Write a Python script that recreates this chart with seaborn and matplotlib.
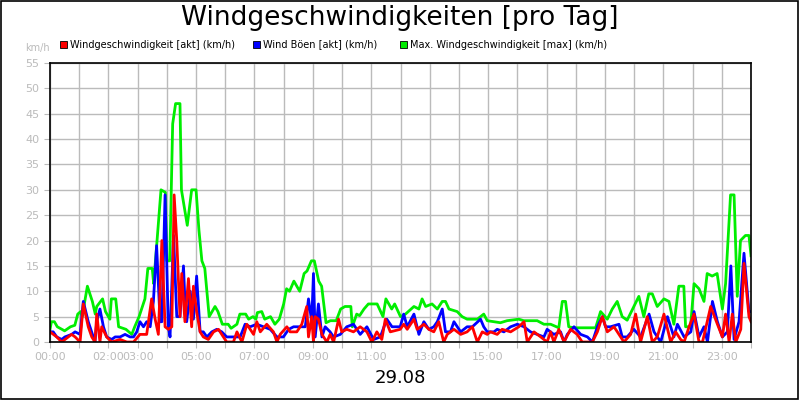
import matplotlib
matplotlib.use("Agg")
import matplotlib.pyplot as plt
import seaborn as sns
import pandas as pd
from matplotlib.patches import Rectangle

# ================= Daten (Stunden, km/h) =================
max_t = [0, 0.05, 0.15, 0.25, 0.5, 0.7, 0.85, 0.95, 1.05, 1.1, 1.28, 1.45, 1.55, 1.6, 1.8, 1.9, 2.05, 2.1, 2.25, 2.35,
         2.6, 2.8, 2.9, 3.05, 3.25, 3.35, 3.5, 3.55, 3.65, 3.8, 3.95, 4.0, 4.1, 4.2, 4.3, 4.45, 4.5, 4.7, 4.85, 5.0,
         5.1, 5.2, 5.3, 5.45, 5.65, 5.75, 5.9, 6.1, 6.2, 6.4, 6.5, 6.7, 6.8, 6.95, 7.05, 7.1, 7.25, 7.35, 7.55, 7.7,
         7.85, 8.0, 8.1, 8.2, 8.35, 8.55, 8.7, 8.8, 8.95, 9.05, 9.2, 9.3, 9.45, 9.6, 9.8, 9.95, 10.1, 10.3, 10.35, 10.5,
         10.6, 10.75, 10.9, 11.2, 11.4, 11.5, 11.7, 11.8, 12.0,
         12.17, 12.46, 12.63, 12.74, 12.86, 13.08, 13.26, 13.43, 13.54, 13.66, 13.94, 14.11, 14.28, 14.63, 14.85, 14.97,
         15.42, 15.65, 16.05, 16.22, 16.68, 16.91, 17.14, 17.42, 17.54, 17.65, 17.76, 17.94, 18.28, 18.51, 18.68, 18.85,
         19.08, 19.25, 19.42, 19.59, 19.76, 19.99, 20.16, 20.33, 20.5, 20.62, 20.79, 21.02, 21.19, 21.36, 21.53, 21.7,
         21.76, 21.93, 22.05, 22.22, 22.39, 22.5, 22.67, 22.84, 23.02, 23.13, 23.3, 23.42, 23.53, 23.64, 23.81, 23.93, 24.0]
max_v = [2.5, 4, 4, 3, 2.2, 3, 3.3, 5.5, 6, 5, 11, 8, 5.5, 7, 8.5, 6, 4.5, 8.5, 8.5, 3,
         2.5, 1.5, 3, 5, 8.5, 14.5, 14.5, 11.5, 19, 30, 29.5, 16, 16, 43, 47, 47, 30, 23, 30, 30,
         22, 16, 14.5, 5, 7, 6, 3.5, 3.5, 2.7, 3.5, 5.5, 5.5, 4.5, 5, 4.5, 5.8, 6, 4.5, 5, 3.5,
         4.5, 7.5, 10.5, 10, 12, 10, 13.5, 14, 16, 16, 12, 11, 3.8, 4.2, 4.2, 6.5, 7, 7, 3, 5.5,
         5.2, 6.5, 7.5, 7.5, 5, 8.5, 6.5, 7.5, 5,
         5.5, 7, 6.5, 8.5, 7, 7.5, 6.5, 8, 8, 6.5, 6, 5, 4.5, 4.5, 5.5, 4.2,
         3.8, 4.2, 4.5, 4.2, 4.2, 3.5, 3.5, 2.8, 8, 8, 3, 2.8, 2.8, 2.8, 2.8, 6,
         4.5, 6.5, 8, 5, 4.3, 7, 9, 5, 9.5, 9.5, 7, 8.5, 8, 3.5, 11, 11,
         3, 3, 11.5, 10.5, 8, 13.5, 13, 13.5, 6.5, 11.5, 29, 29, 9, 20, 21, 21, 17]

boe_t = [0, .11, .23, .4, .51, .74, .86, 1.03, 1.14, 1.31, 1.48, 1.54, 1.6, 1.71, 1.83, 1.94, 2.11, 2.23, 2.4, 2.57,
         2.74, 2.86, 2.97, 3.08, 3.2, 3.31, 3.43, 3.54, 3.65, 3.77, 3.83, 3.94, 4.05, 4.11, 4.23, 4.34, 4.45, 4.57, 4.62, 4.68,
         4.8, 4.91, 5.02, 5.14, 5.25, 5.37, 5.54, 5.71, 5.88, 6.05, 6.28, 6.51, 6.68, 6.85, 7.08, 7.31, 7.54, 7.77, 7.99, 8.17,
         8.34, 8.57, 8.74, 8.85, 8.96, 9.02, 9.08, 9.19, 9.31, 9.42, 9.59, 9.71, 9.94, 10.16, 10.39, 10.62, 10.85, 11.08, 11.31, 11.53,
         11.71, 11.99,
         12.11, 12.23, 12.46, 12.63, 12.8, 12.97, 13.14, 13.26, 13.43, 13.54, 13.71, 13.83, 14.06, 14.28, 14.46, 14.74, 14.85, 14.97,
         15.2, 15.31, 15.54, 15.77, 16.0, 16.23, 16.45, 16.68, 16.91, 17.02, 17.25, 17.48, 17.6, 17.71, 17.94, 18.17, 18.4, 18.57,
         18.74, 18.91, 19.02, 19.19, 19.48, 19.59, 19.76, 19.99, 20.22, 20.51, 20.68, 20.91, 21.14, 21.36, 21.48, 21.71, 21.94, 22.05,
         22.22, 22.39, 22.51, 22.68, 22.85, 23.02, 23.19, 23.31, 23.42, 23.59, 23.76, 23.93, 24.0]
boe_v = [2, 2, 1, 0.5, 1, 1.5, 2, 1.5, 8, 4, 1, 0, 4, 6.5, 3, 1, 0.5, 1, 1, 1.5,
         1, 1, 2, 4, 3, 4, 3, 8, 19, 4, 4, 29, 3, 1, 21, 5, 5, 15, 8, 4,
         10, 4.5, 13, 2, 2, 1, 2, 2.5, 2, 1, 1, 1, 3.5, 3, 3.5, 3, 2.5, 1, 1, 2.5,
         3, 3, 3, 8.5, 4, 13.5, 1, 7.5, 1, 3, 2, 1, 1.5, 3, 3.5, 1.5, 3, 0.5, 1, 4.5,
         3, 3,
         5.5, 3, 5.5, 1.5, 4, 2.5, 3, 4, 6.5, 2, 2, 4, 2, 3, 3, 4.5, 3, 2,
         2, 2.5, 2, 3, 3.5, 3, 2, 1.5, 1, 2.5, 1.5, 2, 0, 1.5, 3, 1.5, 1, 0,
         3, 5, 3, 3, 3.5, 1, 1, 2.5, 1, 5.5, 2, 0, 5, 1, 3.5, 1, 2, 6,
         1, 3, 0, 8, 4, 1, 2, 15, 0.5, 4, 17.5, 6, 6]

akt_t = [0, .23, .4, .63, .74, .86, 1.03, 1.14, 1.31, 1.43, 1.54, 1.6, 1.71, 1.77, 1.94, 2.11, 2.4, 2.63, 2.86, 3.08,
         3.31, 3.48, 3.6, 3.71, 3.83, 3.94, 4.05, 4.17, 4.25, 4.34, 4.45, 4.51, 4.62, 4.74, 4.85, 4.91, 5.02, 5.14, 5.25, 5.42,
         5.6, 5.77, 5.88, 6.05, 6.28, 6.4, 6.57, 6.74, 6.97, 7.08, 7.2, 7.42, 7.65, 7.77, 7.88, 8.11, 8.22, 8.45, 8.62, 8.79,
         8.85, 8.96, 9.02, 9.08, 9.19, 9.31, 9.48, 9.59, 9.71, 9.88, 9.99, 10.16, 10.39, 10.62, 10.85, 11.02, 11.19, 11.36, 11.48, 11.65,
         11.99,
         12.11, 12.23, 12.46, 12.57, 12.8, 12.97, 13.14, 13.31, 13.48, 13.6, 13.83, 14.06, 14.28, 14.46, 14.63, 14.8, 14.97, 15.08,
         15.31, 15.48, 15.77, 16.05, 16.23, 16.34, 16.57, 16.8, 17.02, 17.14, 17.25, 17.42, 17.6, 17.82, 18.05, 18.22, 18.57, 18.74,
         18.91, 19.08, 19.31, 19.48, 19.65, 19.88, 20.05, 20.22, 20.45, 20.62, 20.79, 21.02, 21.25, 21.42, 21.59, 21.71, 21.88, 22.05,
         22.22, 22.34, 22.62, 22.85, 23.02, 23.13, 23.25, 23.36, 23.48, 23.65, 23.76, 23.93, 24.0]
akt_v = [2, 1, 0, 1, 1.5, 1, 0, 7.5, 3, 1, 0, 5.5, 0, 3, 1, 0, 0.5, 0, 0, 1.5,
         1.5, 8.5, 4.5, 1.5, 20, 3, 2.5, 3, 29, 20, 5, 13.5, 4, 12.5, 3, 11, 6, 2, 1, 0.5,
         2, 2.5, 1.5, 0, 0, 2, 0, 3.5, 1.5, 4, 2, 3.5, 2, 0, 1.5, 3, 2, 2, 3.5, 7,
         1, 5, 0, 5, 4.5, 1.5, 0, 1.5, 0, 4.5, 2, 2.5, 2, 3, 2, 0, 2, 0.5, 4.5, 2,
         2.5,
         3.5, 2.5, 4.5, 2.5, 3.5, 2.5, 2, 4, 0, 1.5, 2.5, 1.5, 2, 3, 0, 2, 1.5, 2,
         1.5, 2.5, 2, 3, 4, 0, 2, 1, 0, 2, 0, 2.5, 0, 2.5, 1.5, 0, 0, 2,
         5, 2, 3, 1.5, 0, 1.5, 5.5, 0, 5, 0, 1, 5.5, 0, 2, 0.5, 0, 3, 5.5,
         0, 0, 7, 3.5, 1, 5.5, 0, 5.5, 0, 2.5, 15.5, 5, 4]

x_tick_hours = [0, 2, 3, 5, 7, 9, 11, 13, 15, 17, 19, 21, 23]
x_tick_labels = [f"{h:02d}:00" for h in x_tick_hours]
y_ticks = list(range(0, 56, 5))

labels = ["Windgeschwindigkeit [akt] (km/h)", "Wind Böen [akt] (km/h)", "Max. Windgeschwindigkeit [max] (km/h)"]
colors = ["#ff0000", "#0000ff", "#00ee00"]

# ================= Plot =================
fig = plt.figure(figsize=(8, 4), dpi=100)
fig.patches.append(Rectangle((0.001, 0.002), 0.997, 0.996, transform=fig.transFigure,
                             fill=False, edgecolor="black", linewidth=1.2))
ax = fig.add_axes([50 / 800, 58 / 400, 701 / 800, 279 / 400])

for t, v, c in [(max_t, max_v, colors[2]), (boe_t, boe_v, colors[1]), (akt_t, akt_v, colors[0])]:
    df = pd.DataFrame({"t": t, "v": v})
    sns.lineplot(data=df, x="t", y="v", ax=ax, color=c, linewidth=2, estimator=None, sort=False)

ax.set_xlim(0, 24)
ax.set_ylim(0, 55)
ax.set_xticks(range(25), minor=False)
ax.set_xticklabels([x_tick_labels[x_tick_hours.index(h)] if h in x_tick_hours else "" for h in range(25)])
ax.set_yticks(y_ticks)
ax.grid(True, color="#bbbbbb", linewidth=1)
ax.set_axisbelow(True)
ax.tick_params(colors="#bbbbbb", labelcolor="#bbbbbb", labelsize=8, length=4, direction="out")
ax.set_xlabel("")
ax.set_ylabel("")
for s in ax.spines.values():
    s.set_color("black")
    s.set_linewidth(1.2)

fig.text(0.5, 0.955, "Windgeschwindigkeiten [pro Tag]", ha="center", va="center", fontsize=19)
fig.text(37 / 800, 1 - 48 / 400, "km/h", ha="center", va="center", fontsize=7, color="#bbbbbb")
fig.text(0.5, 1 - 378 / 400, "29.08", ha="center", va="center", fontsize=13)

leg_x = [60, 253, 400]
for x, lab, c in zip(leg_x, labels, colors):
    fig.patches.append(Rectangle((x / 800, 1 - 48 / 400), 7 / 800, 7 / 400, transform=fig.transFigure,
                                 facecolor=c, edgecolor="black", linewidth=0.6))
    fig.text((x + 10) / 800, 1 - 44.5 / 400, lab, ha="left", va="center", fontsize=7)

fig.savefig("out.png", dpi=100)
